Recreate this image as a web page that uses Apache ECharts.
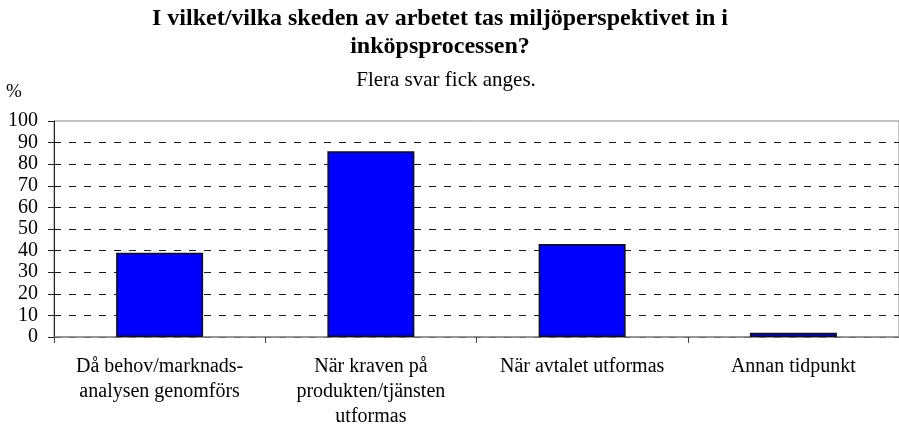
<!DOCTYPE html>
<html>
<head>
<meta charset="utf-8">
<script src="https://cdn.jsdelivr.net/npm/echarts@6/dist/echarts.min.js"></script>
<style>
  html, body { margin: 0; padding: 0; background: #fff; }
  #chart { width: 899px; height: 430px; }
</style>
</head>
<body>
<div id="chart"></div>
<script>
// data
const categories = [
  'Då behov/marknads-\nanalysen genomförs',
  'När kraven på\nprodukten/tjänsten\nutformas',
  'När avtalet utformas',
  'Annan tidpunkt'
]
const percentValues = [39, 86, 43, 2]
const yTicks = { min: 0, max: 100, interval: 10 }

const serif = "'Liberation Serif', 'Times New Roman', serif"

// dashed gridlines, the one at 100 is hidden so the solid grid border shows
const gridColors = []
for (let i = 0; i <= 10; i++) {
  gridColors.push(i === 10 ? 'rgba(0,0,0,0)' : '#1a1a1a')
}

const chart = echarts.init(document.getElementById('chart'))

const option = {
  backgroundColor: '#fff',
  animation: false,
  title: [
    {
      text: 'I vilket/vilka skeden av arbetet tas miljöperspektivet in i\ninköpsprocessen?',
      left: 440,
      top: 5,
      padding: 0,
      textAlign: 'center',
      textStyle: {
        fontFamily: serif,
        fontSize: 24,
        fontWeight: 'bold',
        lineHeight: 28,
        color: '#000'
      }
    },
    {
      text: 'Flera svar fick anges.',
      left: 446,
      top: 68,
      padding: 0,
      textAlign: 'center',
      textStyle: {
        fontFamily: serif,
        fontSize: 21,
        fontWeight: 'normal',
        lineHeight: 24,
        color: '#000'
      }
    }
  ],
  grid: {
    left: 54,
    top: 121,
    width: 854,  // the plot runs a little past the right edge, like the reference
    height: 216,
    show: true,
    borderColor: '#888',
    borderWidth: 1,
    backgroundColor: 'transparent'
  },
  xAxis: {
    type: 'category',
    data: categories,
    axisLine: { lineStyle: { color: '#888', width: 1.5 } },
    axisTick: { show: true, length: 6, lineStyle: { color: '#444' } },
    axisLabel: {
      interval: 0,
      margin: 17,
      fontFamily: serif,
      fontSize: 20,
      lineHeight: 25,
      color: '#000',
      align: 'center'
    },
    splitLine: { show: false }
  },
  yAxis: {
    type: 'value',
    min: yTicks.min,
    max: yTicks.max,
    interval: yTicks.interval,
    name: '%',
    nameLocation: 'end',
    nameGap: 19,
    nameTextStyle: {
      fontFamily: serif,
      fontSize: 19,
      color: '#000',
      padding: [0, 80, 0, 0]
    },
    axisLine: { show: true, lineStyle: { color: '#222', width: 1 } },
    axisTick: { show: true, length: 6, lineStyle: { color: '#222' } },
    axisLabel: {
      margin: 16,
      fontFamily: serif,
      fontSize: 20,
      color: '#000'
    },
    splitLine: {
      show: true,
      lineStyle: { color: gridColors, type: [7, 8], width: 1 }
    }
  },
  series: [
    {
      type: 'bar',
      data: percentValues,
      barWidth: 87,
      itemStyle: {
        color: '#0000ff',
        borderColor: '#111',
        borderWidth: 1.5
      }
    }
  ]
}

chart.setOption(option)
</script>
</body>
</html>
